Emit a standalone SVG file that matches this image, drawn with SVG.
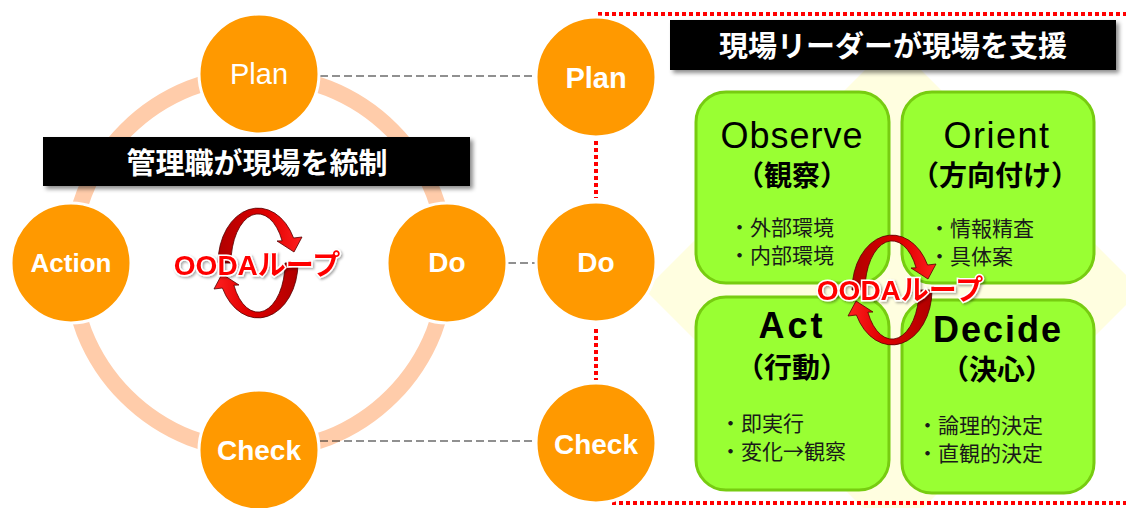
<svg xmlns="http://www.w3.org/2000/svg" width="1126" height="508" viewBox="0 0 1126 508">
<defs>
<style>
.orb{fill:#FF9900;stroke:#FFFFFF;stroke-width:3}
.ct{font-family:"Liberation Sans","Noto Sans CJK JP",sans-serif;fill:#FFFFFF;text-anchor:middle;font-weight:bold;font-size:28px}
.ban{fill:#000000}
.bt{font-family:"Noto Sans CJK JP","Liberation Sans",sans-serif;fill:#FFFFFF;text-anchor:middle;font-weight:bold;font-size:29px}
.box{fill:#99FF33;stroke:#77CC11;stroke-width:3}
.h{font-family:"Liberation Sans","Noto Sans CJK JP",sans-serif;fill:#000000;text-anchor:middle;font-size:36px}
.sub{font-family:"Noto Sans CJK JP","Liberation Sans",sans-serif;fill:#000000;text-anchor:middle;font-weight:bold;font-size:28px}
.li{font-family:"Noto Sans CJK JP","Liberation Sans",sans-serif;fill:#1A1A1A;font-size:21px}
.ooda{font-family:"Liberation Sans","Noto Sans CJK JP",sans-serif;fill:#FF0000;stroke:#FFFFFF;stroke-width:3;paint-order:stroke;text-anchor:middle;font-weight:bold;font-size:28px}
.dash{stroke:#222222;stroke-width:1.2;stroke-dasharray:8 4;fill:none}
.dot{stroke:#FF0000;stroke-width:4;stroke-dasharray:4 3;fill:none}
.arw{fill:url(#ag);stroke:#550000;stroke-width:0.8}
</style>
<linearGradient id="ag" x1="0" y1="0" x2="1" y2="0">
<stop offset="0" stop-color="#B00000"/>
<stop offset="0.6" stop-color="#E00000"/>
<stop offset="1" stop-color="#FF2020"/>
</linearGradient>
<filter id="sh" x="-5%" y="-20%" width="115%" height="150%">
<feDropShadow dx="3" dy="3" stdDeviation="2" flood-color="#000000" flood-opacity="0.45"/>
</filter>
<filter id="ts" x="-10%" y="-30%" width="130%" height="170%">
<feDropShadow dx="1.5" dy="1.5" stdDeviation="1" flood-color="#000000" flood-opacity="0.35"/>
</filter>
<path id="arr" d="M -40 0 A 40 55 0 0 1 35.6 -25 L 44 -26 L 36 -11 L 19 -22 L 24.1 -22.2 A 27 49 0 0 0 -27 0 Z"/>
</defs>
<rect x="0" y="0" width="1126" height="508" fill="#FFFFFF"/>

<g id="background">
<polygon points="893,42 1141,290 893,538 645,290" fill="#FFFEE0"/>
<circle cx="259" cy="263" r="188" fill="none" stroke="#FFCCAA" stroke-width="16"/>
</g>

<g id="connectors">
<line class="dash" x1="320" y1="76" x2="536" y2="76"/>
<line class="dash" x1="508" y1="263" x2="536" y2="263"/>
<line class="dash" x1="320" y1="441" x2="536" y2="441"/>
<line class="dot" x1="598" y1="14" x2="1126" y2="14"/>
<line class="dot" x1="612" y1="503" x2="1126" y2="503"/>
<line class="dot" x1="596" y1="141" x2="596" y2="198"/>
<line class="dot" x1="596" y1="329" x2="596" y2="380"/>
</g>

<g id="left-plan"><circle class="orb" cx="259" cy="74" r="60"/><text class="ct" x="259" y="84" style="font-weight:normal;font-size:29px">Plan</text></g>
<g id="left-action"><circle class="orb" cx="71" cy="263" r="60"/><text class="ct" x="71" y="272" style="font-size:26px">Action</text></g>
<g id="left-do"><circle class="orb" cx="447" cy="263" r="60"/><text class="ct" x="447" y="272">Do</text></g>
<g id="left-check"><circle class="orb" cx="259" cy="450" r="60"/><text class="ct" x="259" y="460">Check</text></g>

<g id="banner-left"><rect class="ban" x="43" y="137" width="427" height="49" filter="url(#sh)"/><text class="bt" x="257" y="174">管理職が現場を統制</text></g>

<g id="left-ooda">
<use href="#arr" class="arw" transform="translate(258 263)"/>
<use href="#arr" class="arw" transform="translate(258 263) rotate(180)"/>
<text class="ooda" x="257" y="275" filter="url(#ts)">OODAループ</text>
</g>

<g id="right-plan"><circle class="orb" cx="596" cy="77" r="60"/><text class="ct" x="596" y="88" style="font-size:29px">Plan</text></g>
<g id="right-do"><circle class="orb" cx="596" cy="262" r="60"/><text class="ct" x="596" y="272">Do</text></g>
<g id="right-check"><circle class="orb" cx="596" cy="443" r="60"/><text class="ct" x="596" y="454">Check</text></g>

<g id="banner-right"><rect class="ban" x="670" y="20" width="446" height="50" filter="url(#sh)"/><text class="bt" x="893" y="57">現場リーダーが現場を支援</text></g>

<g id="observe">
<rect class="box" x="696" y="92" width="193" height="191" rx="30"/>
<text class="h" x="792" y="148" style="letter-spacing:1px">Observe</text>
<text class="sub" x="792" y="186">（観察）</text>
<text class="li" x="729" y="235">・外部環境</text>
<text class="li" x="729" y="263">・内部環境</text>
</g>
<g id="orient">
<rect class="box" x="902" y="92" width="192" height="191" rx="30"/>
<text class="h" x="997" y="148" style="letter-spacing:1.5px">Orient</text>
<text class="sub" x="995" y="186">（方向付け）</text>
<text class="li" x="929" y="236">・情報精査</text>
<text class="li" x="929" y="264">・具体案</text>
</g>
<g id="act">
<rect class="box" x="696" y="297" width="193" height="193" rx="30"/>
<text class="h" x="792" y="338" style="font-weight:bold;letter-spacing:3px">Act</text>
<text class="sub" x="792" y="378">（行動）</text>
<text class="li" x="720" y="431">・即実行</text>
<text class="li" x="720" y="459">・変化→観察</text>
</g>
<g id="decide">
<rect class="box" x="902" y="300" width="192" height="193" rx="30"/>
<text class="h" x="998" y="342" style="font-weight:bold;letter-spacing:2px">Decide</text>
<text class="sub" x="997" y="380">（決心）</text>
<text class="li" x="917" y="433">・論理的決定</text>
<text class="li" x="917" y="461">・直観的決定</text>
</g>

<g id="right-ooda">
<use href="#arr" class="arw" transform="translate(892 290)"/>
<use href="#arr" class="arw" transform="translate(892 290) rotate(180)"/>
<text class="ooda" x="900" y="300" filter="url(#ts)">OODAループ</text>
</g>
</svg>
